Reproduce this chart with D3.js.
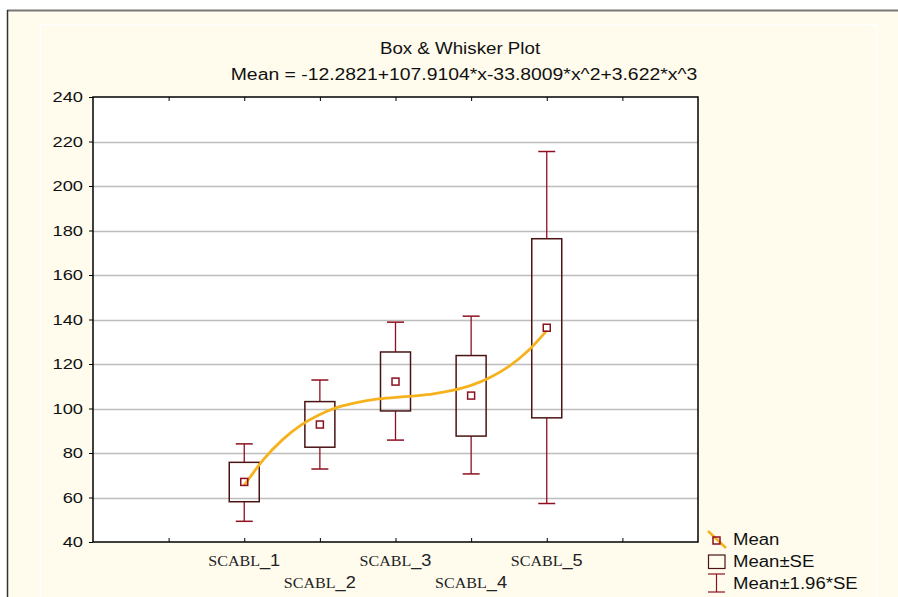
<!DOCTYPE html>
<html>
<head>
<meta charset="utf-8">
<script src="https://cdn.jsdelivr.net/npm/d3@7"></script>
<style>
  body { margin: 0; background: #fff; }
  svg { display: block; }
</style>
</head>
<body>
<svg width="898" height="597"></svg>
<script>
// data
const categories = ["SCABL_1", "SCABL_2", "SCABL_3", "SCABL_4", "SCABL_5"];
const means = [67.0, 92.8, 112.1, 105.8, 136.3];
const seLow = [58.1, 82.6, 98.9, 87.6, 95.8];
const seHigh = [75.8, 103.1, 125.4, 123.8, 176.3];
const ciLow = [49.3, 72.8, 85.8, 70.6, 57.3];
const ciHigh = [84.1, 112.8, 138.8, 141.5, 215.5];
// fitted mean curve, sampled at steps of 0.25 from SCABL_1 to SCABL_5
const curveX = [1, 1.25, 1.5, 1.75, 2, 2.25, 2.5, 2.75, 3, 3.25, 3.5, 3.75, 4, 4.25, 4.5, 4.75, 5];
const curveY = [65.5, 76.9, 85.8, 92.5, 97.3, 100.7, 102.8, 104.2, 105.0, 105.7, 106.6, 108.1, 110.4, 113.9, 118.9, 125.8, 135.0];
const yTicks = [40, 60, 80, 100, 120, 140, 160, 180, 200, 220, 240];
const xTicks = [1, 2, 3, 4, 5, 6, 7];
const legendLabels = ["Mean", "Mean±SE", "Mean±1.96*SE"];

const svg = d3.select("svg");
const sans = "'Liberation Sans', Arial, sans-serif";

// the original picture is a bit wider than it is tall, so text gets stretched sideways
function stretch(sel, k) {
    sel.each(function () {
        const len = this.getComputedTextLength();
        d3.select(this).attr("textLength", len * k).attr("lengthAdjust", "spacingAndGlyphs");
    });
}

// background frame
svg.append("rect").attr("x", 7).attr("y", 10).attr("width", 891).attr("height", 587).attr("fill", "#fffcee");
svg.append("line").attr("x1", 7).attr("x2", 898).attr("y1", 10.5).attr("y2", 10.5).attr("stroke", "#777").attr("stroke-width", 2);
svg.append("line").attr("x1", 7.5).attr("x2", 7.5).attr("y1", 10).attr("y2", 597).attr("stroke", "#333").attr("stroke-width", 1.5);
svg.append("rect").attr("x", 40.5).attr("y", 24.5).attr("width", 836).attr("height", 580)
    .attr("fill", "none").attr("stroke", "#fff").attr("stroke-width", 1.5);

const plotL = 93, plotR = 698, plotT = 97, plotB = 542;

const x = d3.scaleLinear().domain([0, 8]).range([plotL, plotR]);
const y = d3.scaleLinear().domain([40, 240]).range([plotB, plotT]);

// titles
svg.append("text").attr("x", 460).attr("y", 54).attr("text-anchor", "middle")
    .style("font-family", sans).style("font-size", "16px")
    .attr("fill", "#111").text("Box & Whisker Plot")
    .call(stretch, 1.17);
svg.append("text").attr("x", 464).attr("y", 80).attr("text-anchor", "middle")
    .style("font-family", sans).style("font-size", "16px")
    .attr("fill", "#111").text("Mean = -12.2821+107.9104*x-33.8009*x^2+3.622*x^3")
    .call(stretch, 1.21);

// plot area
svg.append("rect").attr("x", plotL).attr("y", plotT).attr("width", plotR - plotL).attr("height", plotB - plotT).attr("fill", "#fff");

// grid
svg.append("g").selectAll("line").data(yTicks.slice(1, -1)).join("line")
    .attr("x1", plotL).attr("x2", plotR)
    .attr("y1", d => Math.round(y(d)) + 0.5).attr("y2", d => Math.round(y(d)) + 0.5)
    .attr("stroke", "#bdbdbd").attr("stroke-width", 1.5);

// axes
const yAxis = svg.append("g").attr("transform", `translate(${plotL},0)`)
    .call(d3.axisLeft(y).tickValues(yTicks).tickSize(4).tickPadding(6));
yAxis.select(".domain").remove();
yAxis.selectAll("line").attr("stroke", "#000");
yAxis.selectAll("text").style("font-family", sans).style("font-size", "15px").attr("fill", "#111")
    .call(stretch, 1.22);

const bottomAxis = svg.append("g").attr("transform", `translate(0,${plotB})`)
    .call(d3.axisBottom(x).tickValues(xTicks).tickSize(-4).tickFormat(""));
bottomAxis.select(".domain").remove();
const topAxis = svg.append("g").attr("transform", `translate(0,${plotT})`)
    .call(d3.axisTop(x).tickValues(xTicks).tickSize(-4).tickFormat(""));
topAxis.select(".domain").remove();
svg.selectAll(".tick line").attr("stroke", "#000");

svg.append("rect").attr("x", plotL).attr("y", plotT).attr("width", plotR - plotL).attr("height", plotB - plotT)
    .attr("fill", "none").attr("stroke", "#000").attr("stroke-width", 1.5);

// category labels, staggered
const catLabels = svg.append("g").selectAll("text").data(categories).join("text")
    .attr("x", (d, i) => x(i + 2))
    .attr("y", (d, i) => i % 2 === 0 ? 566 : 588)
    .attr("text-anchor", "middle").attr("fill", "#222");
catLabels.append("tspan").style("font-family", "'Liberation Serif', 'Times New Roman', serif").style("font-size", "15px")
    .text(d => d.split("_")[0]);
catLabels.append("tspan").style("font-family", sans).style("font-size", "17px")
    .text(d => "_" + d.split("_")[1]);
catLabels.call(stretch, 1.07);

const whiskerCol = "#8e1020", boxCol = "#4a1414", curveCol = "#f6b21e";
const boxW = 30, capW = 17;

const idx = d3.range(categories.length);
const g = svg.append("g");

// whiskers
g.selectAll(".wh-up").data(idx).join("line")
    .attr("x1", i => x(i + 2)).attr("x2", i => x(i + 2))
    .attr("y1", i => y(seHigh[i])).attr("y2", i => y(ciHigh[i]))
    .attr("stroke", whiskerCol).attr("stroke-width", 1.3);
g.selectAll(".wh-dn").data(idx).join("line")
    .attr("x1", i => x(i + 2)).attr("x2", i => x(i + 2))
    .attr("y1", i => y(seLow[i])).attr("y2", i => y(ciLow[i]))
    .attr("stroke", whiskerCol).attr("stroke-width", 1.3);
g.selectAll(".cap-up").data(idx).join("line")
    .attr("x1", i => x(i + 2) - capW / 2).attr("x2", i => x(i + 2) + capW / 2)
    .attr("y1", i => y(ciHigh[i])).attr("y2", i => y(ciHigh[i]))
    .attr("stroke", whiskerCol).attr("stroke-width", 1.5);
g.selectAll(".cap-dn").data(idx).join("line")
    .attr("x1", i => x(i + 2) - capW / 2).attr("x2", i => x(i + 2) + capW / 2)
    .attr("y1", i => y(ciLow[i])).attr("y2", i => y(ciLow[i]))
    .attr("stroke", whiskerCol).attr("stroke-width", 1.5);

// boxes
g.selectAll("rect").data(idx).join("rect")
    .attr("x", i => x(i + 2) - boxW / 2).attr("width", boxW)
    .attr("y", i => y(seHigh[i])).attr("height", i => y(seLow[i]) - y(seHigh[i]))
    .attr("fill", "none").attr("stroke", boxCol).attr("stroke-width", 1.5);

// fitted curve
const line = d3.line().x(d => x(d[0] + 1)).y(d => y(d[1])).curve(d3.curveMonotoneX);
svg.append("path").datum(curveX.map((v, i) => [v, curveY[i]]))
    .attr("d", line).attr("fill", "none").attr("stroke", curveCol).attr("stroke-width", 2.8);

// mean markers
svg.append("g").selectAll("rect").data(idx).join("rect")
    .attr("x", i => x(i + 2) - 3.5).attr("y", i => y(means[i]) - 3.5)
    .attr("width", 7).attr("height", 7)
    .attr("fill", "none").attr("stroke", whiskerCol).attr("stroke-width", 1.5);

// legend
const lg = svg.append("g");
lg.append("line").attr("x1", 708).attr("y1", 531).attr("x2", 726).attr("y2", 548)
    .attr("stroke", curveCol).attr("stroke-width", 2.5);
lg.append("rect").attr("x", 713).attr("y", 537).attr("width", 7).attr("height", 7)
    .attr("fill", "none").attr("stroke", whiskerCol).attr("stroke-width", 1.5);
lg.append("rect").attr("x", 708.5).attr("y", 555).attr("width", 16.5).attr("height", 13.5)
    .attr("fill", "none").attr("stroke", boxCol).attr("stroke-width", 1.2);
lg.append("line").attr("x1", 716.5).attr("x2", 716.5).attr("y1", 574).attr("y2", 592)
    .attr("stroke", whiskerCol).attr("stroke-width", 1.2);
lg.append("line").attr("x1", 708).attr("x2", 725).attr("y1", 574).attr("y2", 574)
    .attr("stroke", whiskerCol).attr("stroke-width", 1.2);
lg.append("line").attr("x1", 708).attr("x2", 725).attr("y1", 592).attr("y2", 592)
    .attr("stroke", whiskerCol).attr("stroke-width", 1.2);
lg.selectAll("text").data(legendLabels).join("text")
    .attr("x", 733).attr("y", (d, i) => 545 + i * 22)
    .style("font-family", sans).style("font-size", "16px")
    .attr("fill", "#111").text(d => d)
    .call(stretch, 1.16);
</script>
</body>
</html>
